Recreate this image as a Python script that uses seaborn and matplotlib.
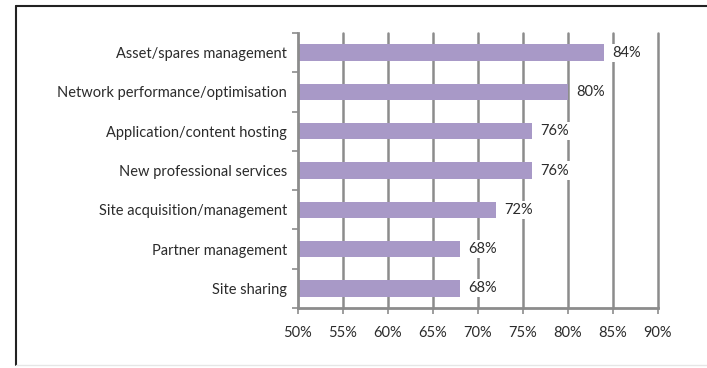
import matplotlib
matplotlib.use("Agg")
import matplotlib.pyplot as plt
from matplotlib.lines import Line2D
import seaborn as sns
import pandas as pd

categories = [
    "Asset/spares management",
    "Network performance/optimisation",
    "Application/content hosting",
    "New professional services",
    "Site acquisition/management",
    "Partner management",
    "Site sharing",
]
values = [84, 80, 76, 76, 72, 68, 68]
x_ticks = [50, 55, 60, 65, 70, 75, 80, 85, 90]
x_tick_labels = ["50%", "55%", "60%", "65%", "70%", "75%", "80%", "85%", "90%"]

df = pd.DataFrame({"service": categories, "share": values})

sns.set_theme(style="white")
plt.rcParams["font.family"] = ["Lato", "DejaVu Sans"]

fig = plt.figure(figsize=(7.07, 3.68), dpi=100)
fig.patch.set_facecolor("white")
ax = fig.add_axes([298 / 707, 1 - 308 / 368, 360 / 707, 275 / 368])

bar_color = "#a899c7"
grid_color = "#8c8c8c"
text_color = "#2b2b2b"

sns.barplot(data=df, x="share", y="service", orient="h", color=bar_color,
            width=0.42, saturation=1, ax=ax, zorder=3)

# bars start from the left edge of the axis
for patch, v in zip(ax.patches, values):
    patch.set_x(50)
    patch.set_width(v - 50)
    patch.set_edgecolor("none")

ax.set_xlim(50, 90)
ax.set_ylim(len(categories) - 0.5, -0.5)
ax.set_xticks(x_ticks)
ax.set_xticklabels(x_tick_labels)
ax.set_xlabel("")
ax.set_ylabel("")

for x in x_ticks[1:]:
    ax.axvline(x, color=grid_color, lw=1.8, zorder=1, clip_on=False)

for s in ["top", "right"]:
    ax.spines[s].set_visible(False)
for s in ["left", "bottom"]:
    ax.spines[s].set_color(grid_color)
    ax.spines[s].set_linewidth(2)
    ax.spines[s].set_zorder(4)

# tick marks: y ticks between categories, x ticks below the axis
ax.set_yticks(range(len(categories)))
ax.set_yticks([i - 0.5 for i in range(len(categories) + 1)], minor=True)
ax.tick_params(axis="y", which="major", length=0, pad=8, labelsize=10.5,
               labelcolor=text_color)
ax.tick_params(axis="y", which="minor", left=True, length=4, width=1.2,
               color=grid_color, direction="out")
ax.tick_params(axis="x", which="major", bottom=True, length=4, width=1.2,
               color=grid_color, direction="out", pad=9, labelsize=10.5,
               labelcolor=text_color)

# value labels sit on a white box that hides the gridlines behind them
for i, v in enumerate(values):
    ax.text(v + 0.9, i, f"{v}%", va="center", ha="left", fontsize=10.5,
            color=text_color, zorder=5,
            bbox=dict(facecolor="white", edgecolor="none", pad=1.5))

# surrounding frame
fig.add_artist(Line2D([16 / 707, 16 / 707], [1 - 6 / 368, 3 / 368],
                      transform=fig.transFigure, color="#222222", lw=1.5))
fig.add_artist(Line2D([16 / 707, 1.0], [1 - 6 / 368, 1 - 6 / 368],
                      transform=fig.transFigure, color="#222222", lw=1.5))
fig.add_artist(Line2D([16 / 707, 1.0], [3 / 368, 3 / 368],
                      transform=fig.transFigure, color="#e6e6e6", lw=1))

fig.savefig("out.png", dpi=100, facecolor="white")
